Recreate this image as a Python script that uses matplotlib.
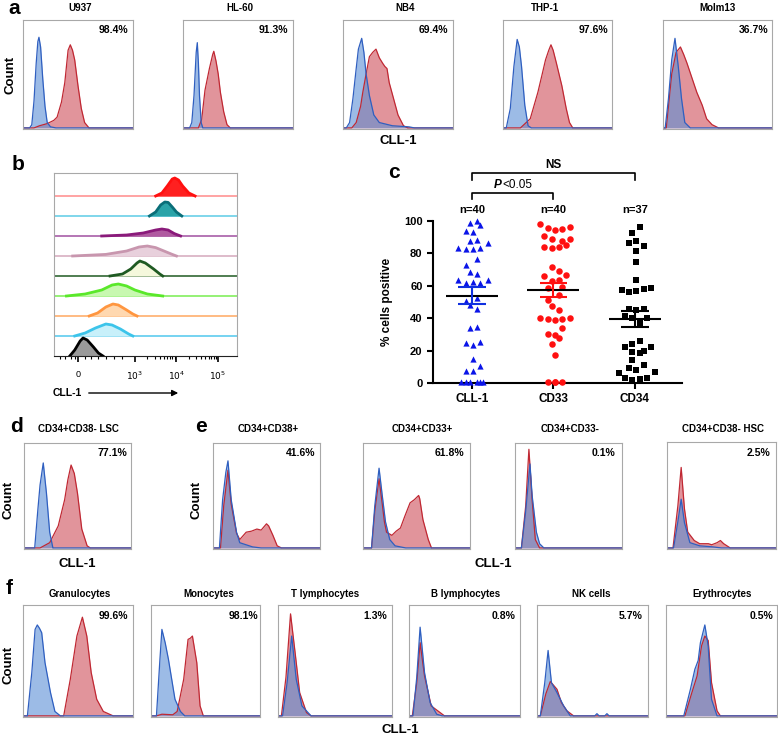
import matplotlib
matplotlib.use("Agg")
import matplotlib.pyplot as plt
from matplotlib.patches import FancyArrowPatch
import numpy as np

plt.rcParams['font.family'] = ['Liberation Sans', 'DejaVu Sans']

# ---------------- data ----------------
# panel a : flow histograms (x, relative count)
U937_BLUE = [(0.06,0),(0.08,0.03),(0.1,0.25),(0.12,0.6),(0.135,0.8),(0.145,0.84),(0.16,0.75),(0.18,0.45),(0.2,0.2),(0.22,0.05),(0.25,0.01),(0.3,0)]
U937_RED = [(0.1,0),(0.15,0.02),(0.22,0.04),(0.28,0.07),(0.31,0.1),(0.35,0.24),(0.38,0.42),(0.41,0.72),(0.43,0.77),(0.45,0.72),(0.47,0.63),(0.5,0.39),(0.53,0.18),(0.56,0.05),(0.6,0)]
HL60_BLUE = [(0.06,0),(0.08,0.05),(0.1,0.3),(0.12,0.7),(0.13,0.79),(0.14,0.6),(0.15,0.3),(0.165,0.05),(0.18,0)]
HL60_RED = [(0.14,0),(0.17,0.08),(0.2,0.35),(0.24,0.55),(0.27,0.68),(0.28,0.71),(0.3,0.62),(0.32,0.5),(0.34,0.33),(0.37,0.15),(0.4,0.03),(0.43,0)]
NB4_BLUE = [(0.03,0),(0.06,0.05),(0.09,0.27),(0.12,0.55),(0.14,0.73),(0.17,0.83),(0.19,0.7),(0.21,0.5),(0.24,0.3),(0.28,0.12),(0.33,0.05),(0.45,0.02),(0.6,0.01),(0.65,0)]
NB4_RED = [(0.08,0),(0.12,0.05),(0.16,0.2),(0.18,0.33),(0.21,0.5),(0.24,0.66),(0.27,0.7),(0.3,0.73),(0.33,0.65),(0.36,0.6),(0.38,0.57),(0.4,0.55),(0.42,0.42),(0.46,0.27),(0.5,0.12),(0.55,0.02),(0.59,0)]
THP1_BLUE = [(0.03,0),(0.067,0.18),(0.1,0.57),(0.13,0.82),(0.15,0.75),(0.17,0.57),(0.2,0.21),(0.23,0.02),(0.26,0)]
THP1_RED = [(0.16,0),(0.25,0.085),(0.32,0.33),(0.36,0.5),(0.39,0.63),(0.42,0.72),(0.44,0.77),(0.46,0.72),(0.49,0.6),(0.54,0.39),(0.58,0.18),(0.61,0.05),(0.64,0)]
MOLM13_BLUE = [(0.02,0),(0.05,0.27),(0.08,0.63),(0.11,0.83),(0.14,0.57),(0.17,0.27),(0.2,0.05),(0.25,0)]
MOLM13_RED = [(0.03,0),(0.06,0.3),(0.08,0.5),(0.12,0.7),(0.16,0.75),(0.19,0.68),(0.22,0.6),(0.27,0.45),(0.31,0.33),(0.36,0.21),(0.4,0.085),(0.45,0.03),(0.51,0)]
A_TITLES = ["U937", "HL-60", "NB4", "THP-1", "Molm13"]
A_PCTS = ["98.4%", "91.3%", "69.4%", "97.6%", "36.7%"]

# panel b : stacked histograms (log-decade position, height), top row first
B_RED = [(3.5,0),(3.65,0.15),(3.78,0.5),(3.9,0.85),(3.96,0.9),(4.05,0.8),(4.15,0.5),(4.3,0.15),(4.45,0)]
B_TEAL = [(3.35,0),(3.5,0.2),(3.62,0.55),(3.72,0.7),(3.8,0.68),(3.9,0.45),(4.0,0.2),(4.13,0)]
B_PURPLE = [(2.2,0),(2.8,0.05),(3.2,0.15),(3.5,0.3),(3.65,0.35),(3.8,0.3),(3.95,0.12),(4.1,0)]
B_PINK = [(1.5,0),(2.3,0.08),(2.8,0.25),(3.1,0.45),(3.3,0.5),(3.5,0.42),(3.7,0.25),(3.9,0.08),(4.0,0)]
B_DKGREEN = [(2.4,0),(2.7,0.1),(2.9,0.35),(3.05,0.65),(3.12,0.75),(3.25,0.65),(3.45,0.35),(3.6,0.1),(3.67,0)]
B_GREEN = [(1.35,0),(1.8,0.1),(2.2,0.3),(2.45,0.55),(2.6,0.6),(2.8,0.5),(3.0,0.3),(3.3,0.1),(3.67,0)]
B_ORANGE = [(1.9,0),(2.1,0.15),(2.3,0.45),(2.47,0.6),(2.6,0.55),(2.8,0.3),(2.95,0.1),(3.05,0)]
B_CYAN = [(1.55,0),(1.8,0.15),(2.05,0.4),(2.3,0.6),(2.45,0.55),(2.65,0.35),(2.85,0.1),(2.95,0)]
B_BLACK = [(1.43,0),(1.55,0.3),(1.68,0.75),(1.75,0.9),(1.85,0.8),(2.0,0.45),(2.12,0.15),(2.23,0)]
B_TICK_POS = [1.63, 3, 4, 5]
B_TICK_LABELS = ['0', '$10^3$', '$10^4$', '$10^5$']

# panel c : % cells positive
C_CATS = ["CLL-1", "CD33", "CD34"]
C_N = ["n=40", "n=40", "n=37"]
CLL1_VALS = [98.6,100,97.5,93.8,93.4,87.7,88.3,86.6,83.1,82.5,82.5,83.1,76.5,72.8,68.5,67.3,63.6,61.9,62.6,61.9,
             63.6,50.6,52.7,48.1,45.5,33.7,34.8,24.5,23.5,25.5,14.6,7.6,7.6,10.5,0.8,0.4,0.8,0.8,0.5,0.5]
CLL1_JITTER = [-0.03,0.06,0.1,-0.08,0.01,-0.03,0.06,0.19,-0.17,-0.08,0.01,0.1,0.06,-0.08,-0.03,0.06,-0.17,-0.08,0.01,0.1,
               0.19,-0.08,0.06,-0.03,0.06,-0.03,0.06,-0.08,0.01,0.1,0.01,-0.08,0.01,0.1,-0.13,-0.03,0.06,0.14,-0.08,0.1]
CD33_VALS = [98.1,95.9,94.4,95.3,96.1,90.7,88.7,87.9,89.1,83.7,83.1,83.7,85.0,71.8,66.3,69.1,66.7,63.2,63.6,58.4,
             59.5,54.1,51.2,47.7,45.3,39.9,39.5,39.1,39.5,40.3,34.0,30.2,29.8,27.6,24.3,17.5,0.8,0.4,0.8,0.6]
CD33_JITTER = [-0.16,-0.07,0.02,0.11,0.2,-0.12,-0.02,0.11,0.2,-0.12,-0.02,0.07,0.16,-0.02,-0.12,0.07,0.16,-0.02,0.07,-0.07,
               0.11,0.07,-0.07,-0.02,0.07,-0.16,-0.07,0.02,0.11,0.2,0.11,-0.07,0.02,0.07,-0.02,0.02,-0.07,0.02,0.11,0.02]
CD34_VALS = [96.5,92.8,86.2,87.9,84.8,81.7,74.5,63.6,57.4,56.4,57.0,57.8,58.8,45.9,45.1,45.5,41.4,40.3,40.3,36.8,
             22.4,23.9,26.1,22.4,19.1,18.3,19.9,14.2,9.5,10.9,8.0,6.0,6.6,2.9,1.9,2.7,2.9]
CD34_JITTER = [0.06,-0.03,-0.07,0.02,0.11,0.02,0.02,0.02,-0.16,-0.07,0.02,0.11,0.2,-0.07,0.02,0.11,-0.12,-0.03,0.15,0.06,
               -0.12,-0.03,0.06,0.2,-0.03,0.06,0.11,-0.03,-0.07,0.11,0.02,-0.2,0.25,-0.12,-0.03,0.06,0.15]
C_MEANS = [54.0, 57.5, 39.5]
C_SEMS = [5.0, 4.5, 4.8]

# panel d / e
LSC_BLUE = [(0.1,0),(0.13,0.37),(0.15,0.6),(0.18,0.81),(0.21,0.52),(0.24,0.15),(0.27,0)]
LSC_RED = [(0.15,0),(0.24,0.05),(0.32,0.21),(0.38,0.46),(0.41,0.65),(0.44,0.79),(0.47,0.71),(0.5,0.52),(0.54,0.18),(0.59,0.02),(0.62,0)]
E38_BLUE = [(0.06,0),(0.09,0.46),(0.12,0.72),(0.14,0.83),(0.17,0.46),(0.22,0.15),(0.25,0.05),(0.37,0.01),(0.45,0)]
E38_RED = [(0.07,0),(0.1,0.4),(0.14,0.74),(0.17,0.42),(0.22,0.14),(0.25,0.08),(0.31,0.15),(0.36,0.16),(0.41,0.18),(0.45,0.17),(0.5,0.23),(0.52,0.21),(0.56,0.12),(0.6,0.02),(0.64,0)]
E33P_BLUE = [(0.08,0),(0.11,0.4),(0.15,0.76),(0.18,0.5),(0.21,0.25),(0.25,0.08),(0.3,0.02),(0.4,0)]
E33P_RED = [(0.08,0),(0.11,0.35),(0.15,0.66),(0.18,0.42),(0.2,0.25),(0.22,0.15),(0.27,0.12),(0.31,0.16),(0.35,0.19),(0.39,0.3),(0.44,0.43),(0.48,0.46),(0.52,0.5),(0.53,0.47),(0.56,0.27),(0.61,0.08),(0.64,0)]
E33N_BLUE = [(0.06,0),(0.1,0.35),(0.14,0.8),(0.16,0.5),(0.2,0.15),(0.23,0.04),(0.27,0)]
E33N_RED = [(0.06,0),(0.1,0.4),(0.13,0.94),(0.16,0.46),(0.19,0.08),(0.23,0)]
HSC_BLUE = [(0.06,0),(0.1,0.25),(0.13,0.46),(0.16,0.24),(0.21,0.05),(0.3,0.02),(0.42,0.01),(0.5,0)]
HSC_RED = [(0.055,0),(0.1,0.4),(0.13,0.76),(0.16,0.37),(0.19,0.15),(0.25,0.07),(0.3,0.04),(0.38,0.04),(0.41,0.03),(0.46,0.05),(0.49,0.07),(0.52,0.04),(0.58,0)]
E_TITLES = ["CD34+CD38+", "CD34+CD33+", "CD34+CD33-", "CD34+CD38- HSC"]
E_PCTS = ["41.6%", "61.8%", "0.1%", "2.5%"]

# panel f
GRAN_BLUE = [(0.04,0),(0.08,0.39),(0.11,0.78),(0.13,0.82),(0.15,0.79),(0.17,0.75),(0.2,0.48),(0.25,0.21),(0.29,0.04),(0.34,0)]
GRAN_RED = [(0.37,0),(0.43,0.33),(0.49,0.72),(0.54,0.89),(0.58,0.72),(0.62,0.39),(0.67,0.15),(0.73,0.04),(0.82,0)]
MONO_BLUE = [(0.05,0),(0.08,0.48),(0.1,0.78),(0.13,0.66),(0.16,0.51),(0.19,0.33),(0.22,0.15),(0.27,0.04),(0.31,0)]
MONO_RED = [(0.05,0),(0.1,0.015),(0.2,0.01),(0.24,0.04),(0.3,0.33),(0.34,0.69),(0.36,0.7),(0.38,0.72),(0.42,0.48),(0.45,0.09),(0.48,0)]
TLYM_BLUE = [(0.04,0),(0.08,0.3),(0.12,0.72),(0.16,0.33),(0.21,0.09),(0.29,0)]
TLYM_RED = [(0.03,0),(0.07,0.35),(0.11,0.92),(0.15,0.57),(0.19,0.21),(0.25,0.03),(0.29,0)]
BLYM_BLUE = [(0.036,0),(0.07,0.35),(0.1,0.8),(0.14,0.39),(0.19,0.12),(0.25,0.015),(0.3,0)]
BLYM_RED = [(0.03,0),(0.07,0.3),(0.1,0.66),(0.14,0.36),(0.2,0.09),(0.28,0.03),(0.32,0)]
NK_BLUE = [(0.03,0),(0.07,0.3),(0.1,0.59),(0.13,0.3),(0.18,0.21),(0.24,0.09),(0.3,0),(0.52,0),(0.54,0.02),(0.56,0),(0.61,0),(0.63,0.02),(0.65,0)]
NK_RED = [(0.03,0),(0.08,0.2),(0.12,0.31),(0.18,0.24),(0.22,0.12),(0.27,0.045),(0.33,0)]
ERY_BLUE = [(0.16,0),(0.22,0.24),(0.26,0.42),(0.29,0.5),(0.31,0.66),(0.35,0.82),(0.38,0.63),(0.41,0.15),(0.46,0)]
ERY_RED = [(0.17,0),(0.23,0.2),(0.28,0.36),(0.32,0.63),(0.35,0.72),(0.38,0.68),(0.41,0.3),(0.46,0.045),(0.49,0)]
F_TITLES = ["Granulocytes", "Monocytes", "T lymphocytes", "B lymphocytes", "NK cells", "Erythrocytes"]
F_PCTS = ["99.6%", "98.1%", "1.3%", "0.8%", "5.7%", "0.5%"]

# ---------------- figure ----------------
W, H = 778, 736
fig = plt.figure(figsize=(W / 100, H / 100), dpi=100)


def ax_px(l, t, r, b):
    return fig.add_axes([l / W, 1 - b / H, (r - l) / W, (b - t) / H])


def txt(x, y, s, **kw):
    kw.setdefault('ha', 'center')
    kw.setdefault('va', 'center')
    fig.text(x / W, 1 - y / H, s, **kw)


RED_FILL, RED_EDGE = '#d8707a', '#c02833'
BLUE_FILL, BLUE_EDGE = '#5a8fd6', '#2f5fc0'


def hist_box(box, red, blue, pct, pct_px, title, title_px):
    ax = ax_px(*box)
    for pts, fc, a in ((red, RED_FILL, 0.75), (blue, BLUE_FILL, 0.6)):
        xs = [0] + [p[0] for p in pts] + [1]
        ys = [0] + [p[1] for p in pts] + [0]
        ax.fill_between(xs, ys, color=fc, alpha=a, lw=0)
    for pts, ec in ((red, RED_EDGE), (blue, BLUE_EDGE)):
        xs = [0] + [p[0] for p in pts] + [1]
        ys = [0] + [p[1] for p in pts] + [0]
        ax.plot(xs, ys, color=ec, lw=0.9)
    ax.set_xlim(0, 1)
    ax.set_ylim(-0.01, 1)
    ax.set_xticks([])
    ax.set_yticks([])
    for s in ax.spines.values():
        s.set_color('#a8a8a8')
        s.set_linewidth(0.8)
    txt(pct_px[0], pct_px[1], pct, ha='right', fontsize=7.5, fontweight='bold')
    txt(title_px[0], title_px[1], title, fontsize=7, fontweight='bold')
    return ax


# ---- panel a ----
a_boxes = [(23, 20, 133, 129), (183, 20, 293, 129), (343, 20, 453, 129), (503, 20, 612, 129), (663, 20, 772, 129)]
a_red = [U937_RED, HL60_RED, NB4_RED, THP1_RED, MOLM13_RED]
a_blue = [U937_BLUE, HL60_BLUE, NB4_BLUE, THP1_BLUE, MOLM13_BLUE]
a_title_x = [80, 240, 405, 545, 718]
a_pct_x = [128, 288, 448, 608, 768]
for i in range(5):
    hist_box(a_boxes[i], a_red[i], a_blue[i], A_PCTS[i], (a_pct_x[i], 30), A_TITLES[i], (a_title_x[i], 8))
txt(8, 8, 'a', fontsize=15, fontweight='bold', ha='left')
txt(11, 75, 'Count', fontsize=9.5, fontweight='bold', rotation=90)
txt(398, 141, 'CLL-1', fontsize=9.5, fontweight='bold')

# ---- panel b ----
axb = ax_px(54, 173, 237, 356)
b_rows = [B_RED, B_TEAL, B_PURPLE, B_PINK, B_DKGREEN, B_GREEN, B_ORANGE, B_CYAN, B_BLACK]
b_edge = ['#ff1010', '#0a6e78', '#8a1a7a', '#c896ae', '#1f5a22', '#5ae82a', '#ff9640', '#3cc4ea', '#000000']
b_fill = ['#ff2020', '#2aa3a8', '#b05aa0', '#e8d0dc', '#f5f8dc', '#c8f8b0', '#ffd8b0', '#c8f0fa', '#9a9a9a']
b_base = ['#ff8a8a', '#5ccce6', '#a050a0', '#d4a8bc', '#1f5a22', '#78ee50', '#ffa860', '#50c8ee', '#000000']
nrows = len(b_rows)
for i, pts in enumerate(b_rows):
    base = nrows - 1 - i
    xs = [p[0] for p in pts]
    ys = [base + p[1] for p in pts]
    if i < nrows - 1:
        axb.axhline(base, color=b_base[i], lw=1.1, zorder=1)
    axb.fill_between(xs, base, ys, color=b_fill[i], lw=0, zorder=2)
    axb.plot(xs, ys, color=b_edge[i], lw=2.0, zorder=3)
axb.set_xlim(1.05, 5.46)
axb.set_ylim(0, 9.15)
axb.set_yticks([])
axb.set_xticks(B_TICK_POS)
axb.set_xticklabels(B_TICK_LABELS, fontsize=6.5)
minor = [1.2, 1.32, 1.45, 1.55, 1.8, 1.95, 2.1, 2.3, 2.5, 2.7] + \
        [d + np.log10(m) for d in (3, 4) for m in range(2, 10)]
axb.set_xticks(minor, minor=True)
axb.tick_params(axis='x', which='major', length=4, width=1.2, pad=6, direction='out')
axb.tick_params(axis='x', which='minor', length=2.5, width=0.8, direction='out')
for s in ('left', 'right', 'top'):
    axb.spines[s].set_color('#a8a8a8')
    axb.spines[s].set_linewidth(0.8)
axb.spines['bottom'].set_color('#222222')
txt(12, 165, 'b', fontsize=15, fontweight='bold', ha='left')
txt(53, 393, 'CLL-1', fontsize=7.5, fontweight='bold', ha='left')
fig.add_artist(FancyArrowPatch((86 / W, 1 - 393 / H), (181 / W, 1 - 393 / H), transform=fig.transFigure,
                               arrowstyle='-|>', mutation_scale=9, lw=1.0, color='k'))

# ---- panel c ----
axc = ax_px(433, 221, 682, 383)
axc.set_xlim(-0.48, 2.58)
axc.set_ylim(0, 100)
groups = [(CLL1_VALS, CLL1_JITTER, '^', '#0a14e8', 20),
          (CD33_VALS, CD33_JITTER, 'o', '#ff1010', 22),
          (CD34_VALS, CD34_JITTER, 's', '#000000', 16)]
sem_col = ['#1030e0', '#ff1010', '#000000']
for i, (vals, jit, mk, col, sz) in enumerate(groups):
    axc.scatter(np.array(jit) + i, vals, marker=mk, s=sz, color=col, linewidths=0, clip_on=False, zorder=3)
    m, s = C_MEANS[i], C_SEMS[i]
    axc.hlines(m, i - 0.32, i + 0.32, color='k', lw=1.5, zorder=4)
    axc.hlines([m - s, m + s], i - 0.17, i + 0.17, color=sem_col[i], lw=1.5, zorder=4)
    axc.vlines(i, m - s, m + s, color=sem_col[i], lw=1.5, zorder=4)
    axc.text(i, 106.8, C_N[i], ha='center', va='center', fontsize=8, fontweight='bold')
for s in ('top', 'right'):
    axc.spines[s].set_visible(False)
for s in ('left', 'bottom'):
    axc.spines[s].set_linewidth(1.5)
axc.set_yticks(range(0, 101, 20))
axc.set_xticks(range(3))
axc.set_xticklabels(C_CATS, fontsize=8.5, fontweight='bold')
for lab in axc.get_yticklabels():
    lab.set_fontweight('bold')
    lab.set_fontsize(8)
axc.tick_params(axis='both', width=1.5, length=4)
axc.set_ylabel('% cells positive', fontsize=8.5, fontweight='bold')
axc.yaxis.set_label_coords(-40 / 249, 0.5)
axc.plot([0, 0, 1, 1], [113.6, 117.3, 117.3, 113.6], color='k', lw=1.2, clip_on=False)
axc.plot([0, 0, 2, 2], [125.3, 129.6, 129.6, 125.3], color='k', lw=1.2, clip_on=False)
axc.text(0.36, 122, 'P', ha='right', va='center', fontsize=8.5, fontweight='bold', fontstyle='italic')
axc.text(0.37, 122, '<0.05', ha='left', va='center', fontsize=8.5)
axc.text(1.0, 134.5, 'NS', ha='center', va='center', fontsize=8.5, fontweight='bold')
txt(388, 173, 'c', fontsize=15, fontweight='bold', ha='left')

# ---- panel d ----
hist_box((24, 443, 131, 549), LSC_RED, LSC_BLUE, '77.1%', (127, 453), 'CD34+CD38- LSC', (78, 429))
txt(10, 427, 'd', fontsize=15, fontweight='bold', ha='left')
txt(9, 500, 'Count', fontsize=9.5, fontweight='bold', rotation=90)
txt(77, 564, 'CLL-1', fontsize=9.5, fontweight='bold')

# ---- panel e ----
e_boxes = [(213, 443, 320, 549), (363, 443, 470, 549), (515, 443, 622, 549), (667, 442, 776, 549)]
e_red = [E38_RED, E33P_RED, E33N_RED, HSC_RED]
e_blue = [E38_BLUE, E33P_BLUE, E33N_BLUE, HSC_BLUE]
e_title_x = [268, 422, 570, 723]
e_pct_x = [315, 464, 615, 770]
for i in range(4):
    hist_box(e_boxes[i], e_red[i], e_blue[i], E_PCTS[i], (e_pct_x[i], 453), E_TITLES[i], (e_title_x[i], 429))
txt(195, 427, 'e', fontsize=15, fontweight='bold', ha='left')
txt(197, 500, 'Count', fontsize=9.5, fontweight='bold', rotation=90)
txt(493, 564, 'CLL-1', fontsize=9.5, fontweight='bold')

# ---- panel f ----
f_boxes = [(23, 605, 133, 717), (151, 605, 260, 717), (278, 605, 392, 717),
           (409, 605, 520, 717), (537, 605, 648, 717), (666, 605, 777, 717)]
f_red = [GRAN_RED, MONO_RED, TLYM_RED, BLYM_RED, NK_RED, ERY_RED]
f_blue = [GRAN_BLUE, MONO_BLUE, TLYM_BLUE, BLYM_BLUE, NK_BLUE, ERY_BLUE]
f_title_x = [80, 209, 325, 466, 591, 722]
f_pct_x = [128, 258, 387, 516, 643, 773]
for i in range(6):
    hist_box(f_boxes[i], f_red[i], f_blue[i], F_PCTS[i], (f_pct_x[i], 616), F_TITLES[i], (f_title_x[i], 594))
txt(6, 588, 'f', fontsize=15, fontweight='bold', ha='left')
txt(9, 665, 'Count', fontsize=9.5, fontweight='bold', rotation=90)
txt(400, 730, 'CLL-1', fontsize=9.5, fontweight='bold')

fig.savefig('out.png', dpi=100)
